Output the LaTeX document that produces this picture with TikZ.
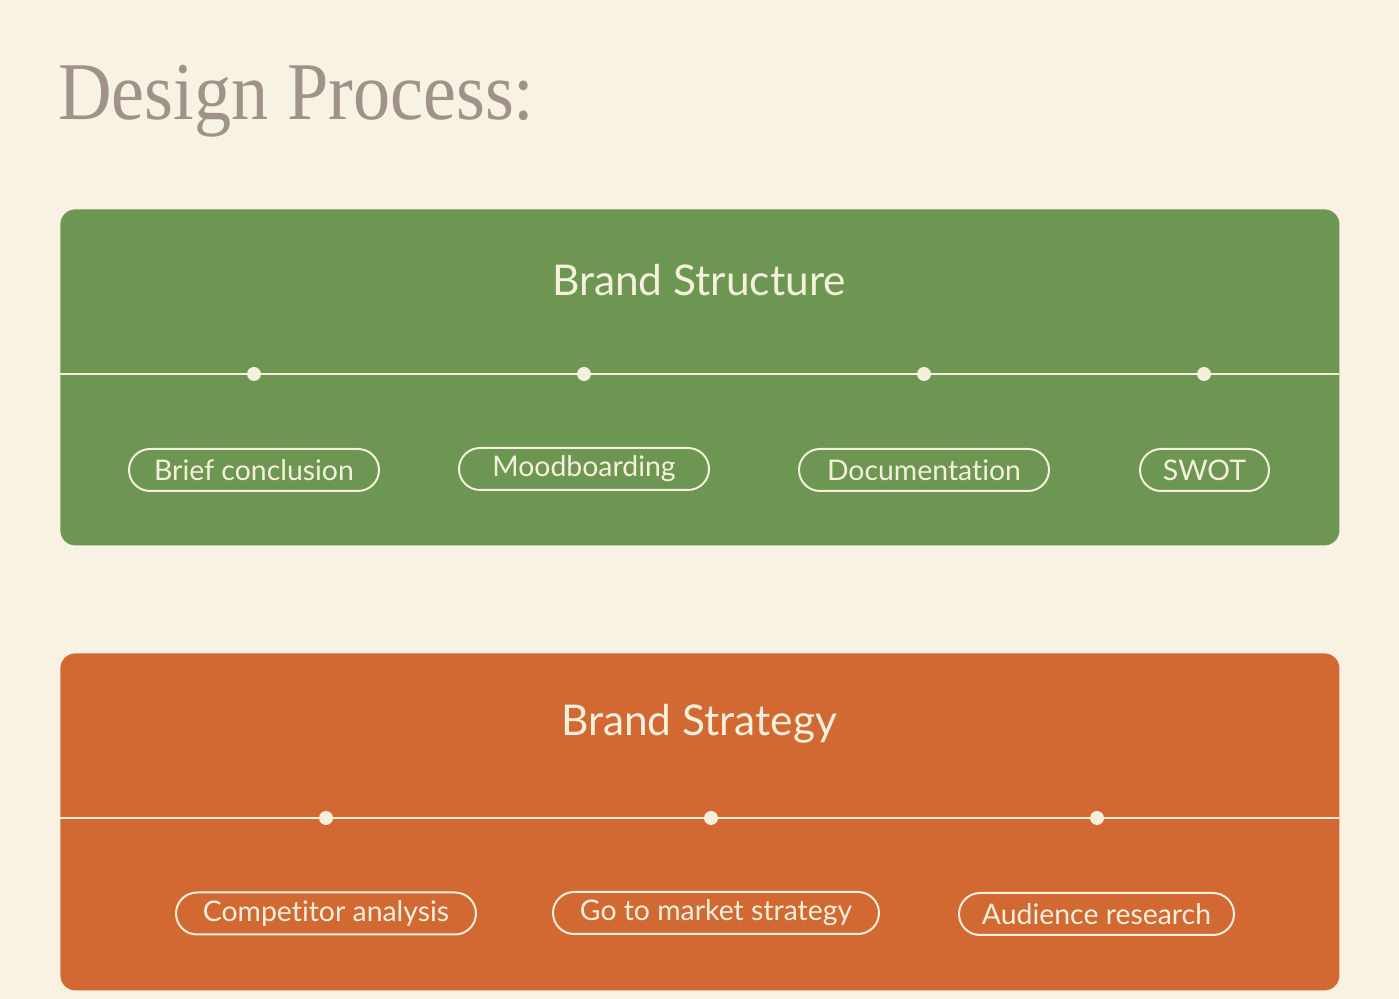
\documentclass[tikz,border=0pt]{standalone}
\usepackage{fontspec}
\setmainfont{Liberation Serif}
\newfontfamily\pillfont[Ligatures=NoCommon]{Lato}
\definecolor{bg}{HTML}{F7F2E2}
\definecolor{grn}{HTML}{6C9651}
\definecolor{org}{HTML}{D26832}
\definecolor{ttl}{HTML}{A09288}
\definecolor{crm}{HTML}{F5F0DC}
\tikzset{
  panel/.style={fill=#1, rounded corners=7.5pt, inner sep=0pt, anchor=north west},
  heading/.style={text=crm, font=\pillfont\fontsize{21.2}{25}\selectfont},
  pill/.style={draw=crm, line width=1pt, text=crm, rounded corners=10.5pt, minimum height=21pt, inner sep=0pt, font=\pillfont\fontsize{14.2}{16}\selectfont, minimum width=#1},
  dotnode/.style={circle, fill=crm, inner sep=0pt, minimum size=7pt},
  rule/.style={draw=crm, line width=0.8pt}
}
\begin{document}
\begin{tikzpicture}[x=0.5pt,y=-0.5pt]
\fill[bg] (0,0) rectangle (1399,999);
\useasboundingbox (0,0) rectangle (1399,999);
\node[anchor=base west, text=ttl, font=\fontsize{41}{48}\selectfont, inner sep=0pt] (title) at (58,120) {\scalebox{0.905}[1]{Design Process:}};

% Brand Structure panel
\node[panel=grn, minimum width=639.5pt, minimum height=168pt] (p1) at (60,209) {};
\node[heading] (h1) at (699,280) {Brand Structure};
\coordinate (l1a) at (60,374);
\coordinate (l1b) at (1339,374);
\draw[rule] (l1a) -- (l1b);
\node[dotnode] (d11) at (254,374) {};
\node[dotnode] (d12) at (584,374) {};
\node[dotnode] (d13) at (924,374) {};
\node[dotnode] (d14) at (1204,374) {};
\node[pill=125pt] (s1) at (254,470) {Brief conclusion};
\node[pill=125pt] (s2) at (584,469) {Moodboarding};
\node[pill=125pt] (s3) at (924,470) {Documentation};
\node[pill=64.5pt] (s4) at (1204.5,470) {SWOT};

% Brand Strategy panel
\node[panel=org, minimum width=639.5pt, minimum height=168.5pt] (p2) at (60,653) {};
\node[heading] (h2) at (699,724) {Brand Strategy};
\coordinate (l2a) at (60,818);
\coordinate (l2b) at (1339,818);
\draw[rule] (l2a) -- (l2b);
\node[dotnode] (d21) at (326,818) {};
\node[dotnode] (d22) at (711,818) {};
\node[dotnode] (d23) at (1097,818) {};
\node[pill=150pt] (t1) at (326,913.5) {Competitor analysis};
\node[pill=163pt] (t2) at (716,913) {Go to market strategy};
\node[pill=137.5pt] (t3) at (1096.5,914) {Audience research};
\end{tikzpicture}
\end{document}
